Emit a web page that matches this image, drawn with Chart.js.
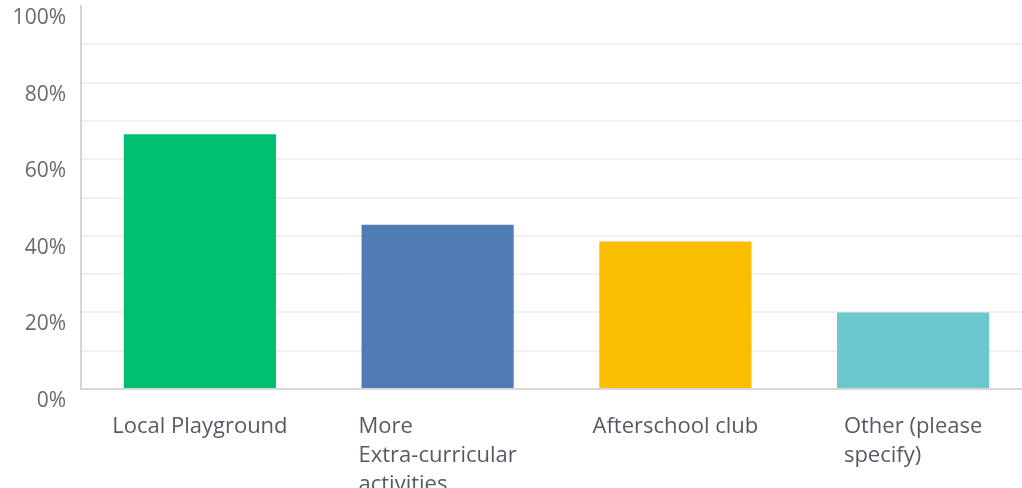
<!DOCTYPE html>
<html>
<head>
<meta charset="utf-8">
<script src="https://cdn.jsdelivr.net/npm/chart.js@4/dist/chart.umd.min.js"></script>
<style>
	html, body { margin: 0; padding: 0; background: #fff; overflow: hidden; }
	#wrap { width: 1032px; height: 500px; }
</style>
</head>
<body>
<div id="wrap"><canvas id="answers" width="1032" height="500"></canvas></div>
<script>
	// answer choices, wrapped the way the survey tool wraps them
	var categories = [
		['Local Playground'],
		['More', 'Extra-curricular', 'activities'],
		['Afterschool club'],
		['Other (please', 'specify)']
	];
	var percentages = [66.5, 42.9, 38.5, 20.0];
	var barColors = ['#00bf6f', '#507cb6', '#f9be00', '#6bc8cd'];
	var yTicks = [0, 20, 40, 60, 80, 100];

	var FONT = '"Open Sans", "Noto Sans", sans-serif';

	// x labels: block centred on the bar, lines left aligned inside it
	var blockLabels = {
		id: 'blockLabels',
		afterDraw: function(chart) {
			var ctx = chart.ctx;
			var xScale = chart.scales.x;
			ctx.save();
			ctx.font = '22px ' + FONT;
			ctx.fillStyle = '#545b64';
			ctx.textAlign = 'left';
			ctx.textBaseline = 'alphabetic';
			categories.forEach(function(lines, i) {
				var widest = 0;
				lines.forEach(function(l) { widest = Math.max(widest, ctx.measureText(l).width); });
				var left = xScale.getPixelForValue(i) - widest / 2;
				lines.forEach(function(l, j) {
					ctx.fillText(l, left, chart.chartArea.bottom + 44 + j * 29);
				});
			});
			ctx.restore();
		}
	};

	// drop the extra room Chart.js keeps for half of the end labels
	function noEdgePadding(scale) {
		scale.paddingTop = 0;
		scale.paddingBottom = 0;
		scale.paddingLeft = 0;
		scale.paddingRight = 0;
	}

	var chartData = {
		type: 'bar',
		data: {
			labels: categories.map(function(c) { return c.join(' '); }),
			datasets: [{
				data: percentages,
				backgroundColor: barColors,
				borderWidth: 0,
				categoryPercentage: 0.64,
				barPercentage: 1
			}]
		},
		options: {
			responsive: false,
			animation: false,
			layout: { padding: { top: 6, right: 0, bottom: 0, left: 0 } },
			plugins: { legend: { display: false }, tooltip: { enabled: false } },
			scales: {
				x: {
					grid: { display: false, drawTicks: false },
					border: { display: true, color: '#d6d6d6', width: 2 },
					ticks: { display: false },
					afterFit: function(scale) { scale.height = 111; noEdgePadding(scale); }
				},
				y: {
					min: 0,
					max: 100,
					afterBuildTicks: function(scale) {
						var t = [];
						for (var v = 0; v <= 100; v += 10) t.push({ value: v });
						scale.ticks = t;
					},
					grid: {
						drawTicks: false,
						lineWidth: 2,
						color: function(c) { return c.tick && c.tick.value === 100 ? 'rgba(0,0,0,0)' : '#f0f0f0'; }
					},
					border: { display: true, color: '#d6d6d6', width: 2 },
					ticks: {
						padding: 15,
						labelOffset: 12,
						color: '#666a70',
						font: { family: FONT, size: 21 },
						callback: function(v) { return yTicks.indexOf(v) >= 0 ? v + '%' : ''; }
					},
					afterFit: function(scale) { scale.width = 81; noEdgePadding(scale); }
				}
			}
		},
		plugins: [blockLabels]
	};

	var chart = new Chart(document.getElementById('answers').getContext('2d'), chartData);
</script>
</body>
</html>
